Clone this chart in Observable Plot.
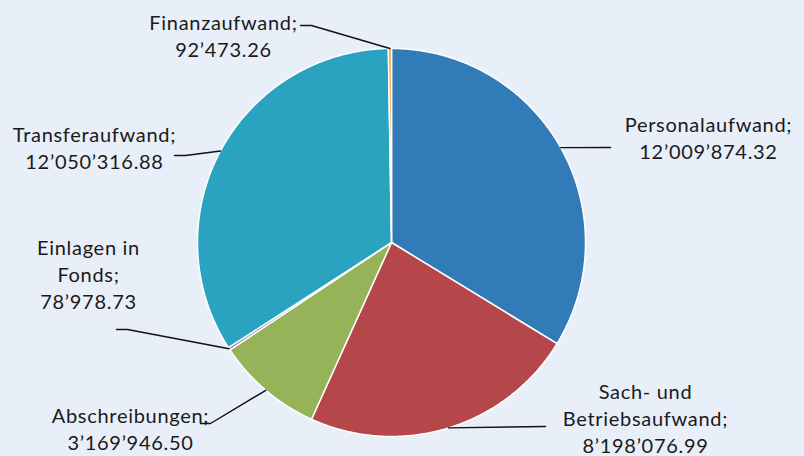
<!DOCTYPE html>
<html><head><meta charset="utf-8">
<script src="https://cdn.jsdelivr.net/npm/d3@7"></script>
<script src="https://cdn.jsdelivr.net/npm/@observablehq/plot@0.6"></script>
<style>
html,body{margin:0;padding:0;background:#e9eff9;}
#chart svg{display:block;}
#chart svg text{letter-spacing:0.7px;}
</style></head><body><div id="chart"></div>
<script>
// ---- data ----
const categories = ["Personalaufwand","Sach- und Betriebsaufwand","Abschreibungen","Einlagen in Fonds","Transferaufwand","Finanzaufwand"];
const labelNames = ["Personalaufwand","Sach- und\nBetriebsaufwand","Abschreibungen","Einlagen in\nFonds","Transferaufwand","Finanzaufwand"];
const values = [12009874.32, 8198076.99, 3169946.50, 78978.73, 12050316.88, 92473.26];
const colors = ["#317bb8","#b54649","#97b35a","#7e64a3","#2aa3c0","#f59c3f"];

// ---- layout (pixels) ----
const W = 804, H = 456;
const cx = 391, cy = 242, r = 194;
const labelLayout = [
  {elbow:[610,147], end:[610,147], tx:708, ty:136},
  {elbow:[545,426], end:[545,426], tx:645, ty:417},
  {elbow:[210,423], end:[200,423], tx:130, ty:427},
  {elbow:[127,329], end:[116,329], tx:88,  ty:273},
  {elbow:[185,155], end:[174,155], tx:94,  ty:146},
  {elbow:[311,25],  end:[300,25],  tx:223, ty:34}
];

const fmt = d3.formatLocale({decimal:".", thousands:"\u2019", grouping:[3], currency:["",""]}).format(",.2f");
const pie = d3.pie().sort(null).value(d => d)(values);
const pt = (a, rad) => [cx + rad*Math.sin(a), cy - rad*Math.cos(a)];

const slicePts = [];
pie.forEach((p, i) => {
  const key = categories[i];
  slicePts.push({key, x: cx, y: cy});
  const n = Math.max(2, Math.ceil((p.endAngle - p.startAngle) / (Math.PI/360)));
  for (let k = 0; k <= n; k++) {
    const a = p.startAngle + (p.endAngle - p.startAngle) * k / n;
    const [x, y] = pt(a, r);
    slicePts.push({key, x, y});
  }
});

const leaderPts = [];
const labelRows = [];
pie.forEach((p, i) => {
  const key = categories[i];
  const L = labelLayout[i];
  const mid = (p.startAngle + p.endAngle)/2;
  const [sx, sy] = pt(mid, r);
  leaderPts.push({key, x: sx, y: sy});
  leaderPts.push({key, x: L.elbow[0], y: L.elbow[1]});
  leaderPts.push({key, x: L.end[0], y: L.end[1]});
  labelRows.push({key, x: L.tx, y: L.ty, text: labelNames[i] + ";\n" + fmt(values[i])});
});

const chart = Plot.plot({
  width: W, height: H,
  margin: 0,
  style: {background: "transparent", fontFamily: "Lato, 'Open Sans', sans-serif"},
  x: {domain: [0, W], range: [0, W], axis: null},
  y: {domain: [0, H], range: [0, H], axis: null},
  color: {domain: categories, range: colors},
  marks: [
    Plot.line(slicePts, {x: "x", y: "y", z: "key", fill: "key", stroke: "white", strokeWidth: 1.5, curve: "linear-closed"}),
    Plot.line(leaderPts, {x: "x", y: "y", z: "key", stroke: "#111", strokeWidth: 1.4}),
    Plot.text(labelRows, {x: "x", y: "y", text: "text", fontSize: 20, lineHeight: 1.36, lineAnchor: "middle", textAnchor: "middle", fill: "#1a1a1a"})
  ]
});
document.getElementById("chart").appendChild(chart);
</script>
</body></html>
